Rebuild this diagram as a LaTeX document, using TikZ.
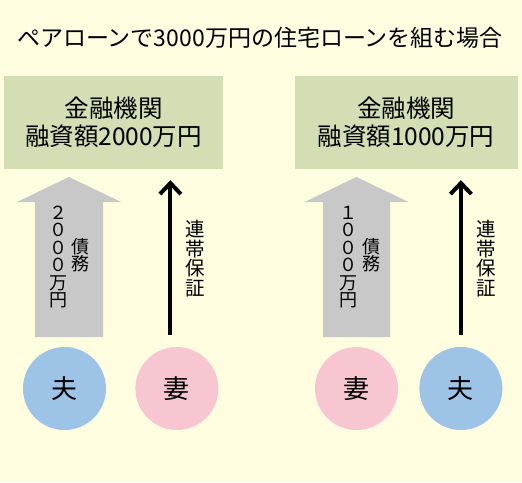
\documentclass[tikz,border=0pt]{standalone}
\usepackage{fontspec}
\setmainfont{Noto Sans CJK JP}
\usetikzlibrary{arrows.meta, positioning}
\definecolor{bgyellow}{RGB}{255,253,224}
\definecolor{bankgreen}{RGB}{212,222,180}
\definecolor{husbandblue}{RGB}{157,195,230}
\definecolor{wifepink}{RGB}{247,198,208}
\definecolor{debtgray}{RGB}{200,200,200}

\begin{document}
\begin{tikzpicture}[x=1pt, y=-1pt,
    bank/.style={fill=bankgreen, minimum width=219pt, minimum height=93pt, align=center, font=\fontsize{24.5}{28}\selectfont},
    person/.style={circle, minimum size=83pt, inner sep=0pt, font=\fontsize{26}{26}\selectfont},
    vtext/.style={align=center, inner sep=0pt, font=\fontsize{18}{17.5}\selectfont},
    guartext/.style={align=center, inner sep=0pt, font=\fontsize{19.5}{19.5}\selectfont},
    guarantee/.style={line width=4pt, -{Straight Barb[length=11pt,width=21pt]}, shorten <=12pt, shorten >=11pt}]
    \fill[bgyellow] (0,0) rectangle (522,482);
    \node[font=\fontsize{23}{26}\selectfont] (title) at (260,38) {ペアローンで3000万円の住宅ローンを組む場合};

    \node[bank] (bankL) at (113.5,122.5) {金融機関\\融資額2000万円};
    \node[bank, minimum width=223pt] (bankR) at (406,122.5) {金融機関\\融資額1000万円};

    \node[person, fill=husbandblue] (husbandL) at (64.5,388.5) {夫};
    \node[person, fill=wifepink, right=29pt of husbandL] (wifeL) {妻};
    \node[person, fill=wifepink] (wifeR) at (356.5,388.5) {妻};
    \node[person, fill=husbandblue, right=21pt of wifeR] (husbandR) {夫};

    % debt arrows
    \foreach \cx/\hw in {69/34, 356.5/33.5}{
      \fill[debtgray] (\cx-\hw,337) -- (\cx-\hw,202) -- (\cx-52,202) -- (\cx,177)
        -- (\cx+52,202) -- (\cx+\hw,202) -- (\cx+\hw,337) -- cycle;}
    \node[vtext] (debtAmtL) at (58,257) {２\\０\\０\\０\\万\\円};
    \node[vtext] (debtL) at (80,255) {債\\務};
    \node[vtext] (debtAmtR) at (348,257) {１\\０\\０\\０\\万\\円};
    \node[vtext] (debtR) at (371,255) {債\\務};

    % guarantee arrows
    \coordinate (guarLfoot) at ([xshift=-6.5pt]wifeL.north);
    \draw[guarantee] (guarLfoot) -- (guarLfoot |- bankL.south);
    \draw[guarantee] (husbandR.north) -- (husbandR.north |- bankR.south);
    \node[guartext] (guarL) at (195,258.5) {連\\帯\\保\\証};
    \node[guartext] (guarR) at (486,258.5) {連\\帯\\保\\証};
\end{tikzpicture}
\end{document}
